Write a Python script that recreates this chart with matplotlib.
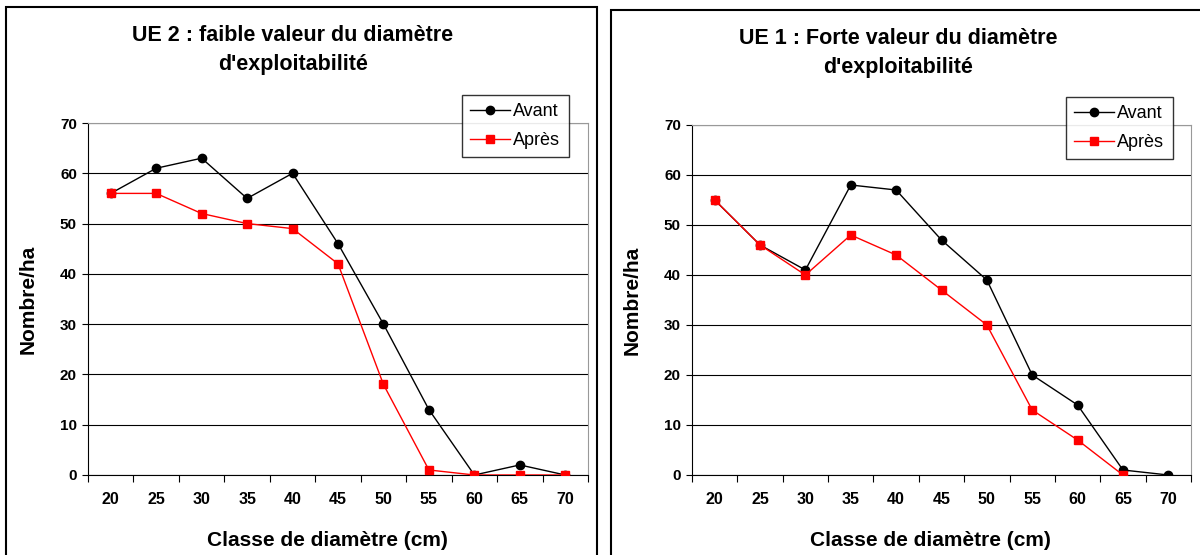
import matplotlib
matplotlib.use("Agg")
import matplotlib.pyplot as plt
from matplotlib.patches import Rectangle
import numpy as np

plt.rcParams['font.family'] = ['Liberation Sans', 'DejaVu Sans']

classes = ["20", "25", "30", "35", "40", "45", "50", "55", "60", "65", "70"]

# UE 2 : faible valeur du diamètre d'exploitabilité
ue2_avant = [56, 61, 63, 55, 60, 46, 30, 13, 0, 2, 0]
ue2_apres = [56, 56, 52, 50, 49, 42, 18, 1, 0, 0, 0]

# UE 1 : forte valeur du diamètre d'exploitabilité
ue1_avant = [55, 46, 41, 58, 57, 47, 39, 20, 14, 1, 0]
ue1_apres = [55, 46, 40, 48, 44, 37, 30, 13, 7, 0, np.nan]

W, H = 1200, 555
fig = plt.figure(figsize=(W / 100, H / 100), dpi=100)

# outer chart frames
fig.patches.append(Rectangle((6 / W, -0.05), (597 - 6) / W, 1.05 - 7 / H,
                             transform=fig.transFigure, fill=False,
                             edgecolor='black', linewidth=1.5))
fig.patches.append(Rectangle((611 / W, -0.05), 0.6, 1.05 - 10 / H,
                             transform=fig.transFigure, fill=False,
                             edgecolor='black', linewidth=1.5))


def draw(rect, avant, apres, title, title_x, title_y, leg_box):
    ax = fig.add_axes(rect)
    x = np.arange(len(classes))
    ax.plot(x, avant, color='black', marker='o', markersize=6, linewidth=1,
            label='Avant', zorder=3)
    ax.plot(x, apres, color='#ff0000', marker='s', markersize=6, linewidth=1,
            label='Après', zorder=3)
    ax.set_xlim(-0.5, len(classes) - 0.5)
    ax.set_ylim(0, 70)
    ax.set_yticks(range(0, 71, 10))
    ax.set_yticklabels([str(v) for v in range(0, 71, 10)], fontweight='bold',
                       fontsize=11)
    ax.yaxis.grid(True, color='black', linewidth=0.8)
    ax.set_axisbelow(True)
    ax.set_xticks(np.arange(-0.5, len(classes), 1))
    ax.set_xticklabels([])
    ax.set_xticks(x, minor=True)
    ax.set_xticklabels(classes, minor=True, fontweight='bold', fontsize=11.5)
    ax.tick_params(axis='x', which='major', length=5, direction='out')
    ax.tick_params(axis='x', which='minor', length=0, pad=12)
    ax.tick_params(axis='y', length=4, direction='out', pad=4)
    for s in ['top', 'right']:
        ax.spines[s].set_color('#999999')
    for s in ['left', 'bottom']:
        ax.spines[s].set_color('black')
    h_px = rect[3] * H
    w_px = rect[2] * W
    ax.set_xlabel('Classe de diamètre (cm)', fontweight='bold', fontsize=15,
                  va='center')
    ax.xaxis.set_label_coords(0.5 - 11 / w_px, -65 / h_px)
    ax.set_ylabel('Nombre/ha', fontweight='bold', fontsize=15, va='center')
    ax.yaxis.set_label_coords(-60 / w_px, 0.5)
    for i, line in enumerate(title):
        fig.text(title_x / W, 1 - (title_y + 29 * i) / H, line, ha='center',
                 va='baseline', fontweight='bold', fontsize=15.5)
    leg = ax.legend(loc='upper left', bbox_to_anchor=leg_box,
                    bbox_transform=fig.transFigure, frameon=True,
                    fancybox=False, edgecolor='black', fontsize=13,
                    handlelength=2.2, handletextpad=0.2, borderpad=0.45,
                    labelspacing=0.65, borderaxespad=0)
    leg.get_frame().set_linewidth(1)
    return ax


draw([88 / W, 1 - 475 / H, 500 / W, 352 / H], ue2_avant, ue2_apres,
     ["UE 2 : faible valeur du diamètre", "d'exploitabilité"], 293, 41,
     (462 / W, 1 - 95 / H))
draw([692 / W, 1 - 475 / H, 499 / W, 350 / H], ue1_avant, ue1_apres,
     ["UE 1 : Forte valeur du diamètre", "d'exploitabilité"], 898, 44,
     (1066 / W, 1 - 97 / H))

fig.savefig('out.png', dpi=100)
